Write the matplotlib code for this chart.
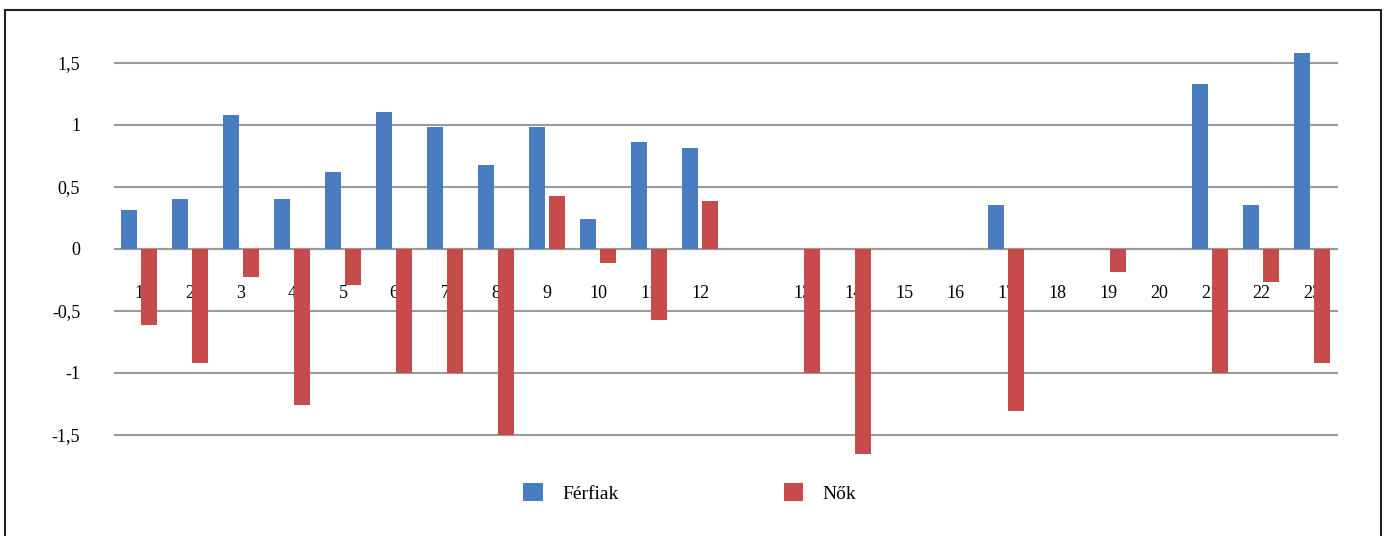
import numpy as np
import matplotlib
matplotlib.use("Agg")
import matplotlib.pyplot as plt
from matplotlib.lines import Line2D
from matplotlib.patches import Patch

# Kategóriák (a 12. után egy üres hely van)
labels = ["1", "2", "3", "4", "5", "6", "7", "8", "9", "10", "11", "12", "",
          "13", "14", "15", "16", "17", "18", "19", "20", "21", "22", "23"]
ferfiak = [0.31, 0.40, 1.08, 0.40, 0.62, 1.10, 0.98, 0.68, 0.98, 0.24, 0.86, 0.81, 0,
           0, 0, 0, 0, 0.35, 0, 0, 0, 1.33, 0.35, 1.58]
nok = [-0.61, -0.92, -0.23, -1.26, -0.29, -1.0, -1.0, -1.50, 0.43, -0.11, -0.57, 0.39, 0,
       -1.0, -1.65, 0, 0, -1.31, 0, -0.19, 0, -1.0, -0.27, -0.92]
yticks = [-1.5, -1, -0.5, 0, 0.5, 1, 1.5]
ytick_labels = ["-1,5", "-1", "-0,5", "0", "0,5", "1", "1,5"]

blue = "#4a7cc2"
red = "#c84b4b"

plt.rcParams['font.family'] = ['Liberation Serif', 'DejaVu Serif']

W, H = 1387, 536
fig = plt.figure(figsize=(W / 100, H / 100), dpi=100)
fig.patch.set_facecolor("white")

# keret
fig.add_artist(Line2D([5 / W, 5 / W], [0, 1 - 10 / H], color="#222222", lw=1.5))
fig.add_artist(Line2D([5 / W, 1381 / W], [1 - 10 / H, 1 - 10 / H], color="#222222", lw=1.5))
fig.add_artist(Line2D([1381 / W, 1381 / W], [0, 1 - 10 / H], color="#222222", lw=1.5))

ax = fig.add_axes([113.5 / W, 1 - 466 / H, 1224 / W, 428 / H])
x = np.arange(len(labels))
w = 0.32
ax.bar(x - 0.2, ferfiak, width=w, color=blue, zorder=2)
ax.bar(x + 0.2, nok, width=w, color=red, zorder=2)

# az x tengely a -0,5 és 0 közé kerül, a feliratok a rudak mögött
ax.spines['bottom'].set_position(('data', -0.28))
for s in ax.spines.values():
    s.set_visible(False)

ax.set_xlim(-0.5, len(labels) - 0.5)
ax.set_ylim(-1.75, 1.7)
ax.set_yticks(yticks)
ax.set_yticklabels(ytick_labels)
ax.set_xticks(x)
ax.set_xticklabels(labels)
ax.yaxis.grid(True, color="#9a9a9a", lw=1.5)
ax.set_axisbelow(True)

ax.tick_params(axis='both', length=0, labelsize=13)
ax.tick_params(axis='x', pad=1)
ax.tick_params(axis='y', pad=24)
ax.axhline(0, color="#9a9a9a", lw=1.5, zorder=0.5)

handles = [Patch(facecolor=blue, label="Férfiak"), Patch(facecolor=red, label="Nők")]
fig.legend(handles=handles, loc="center", bbox_to_anchor=(690 / W, 1 - 493 / H),
           ncol=2, frameon=False, fontsize=14, handlelength=1.0, handleheight=1.0,
           handletextpad=1.0, columnspacing=8.5)

fig.savefig("out.png", dpi=100)
